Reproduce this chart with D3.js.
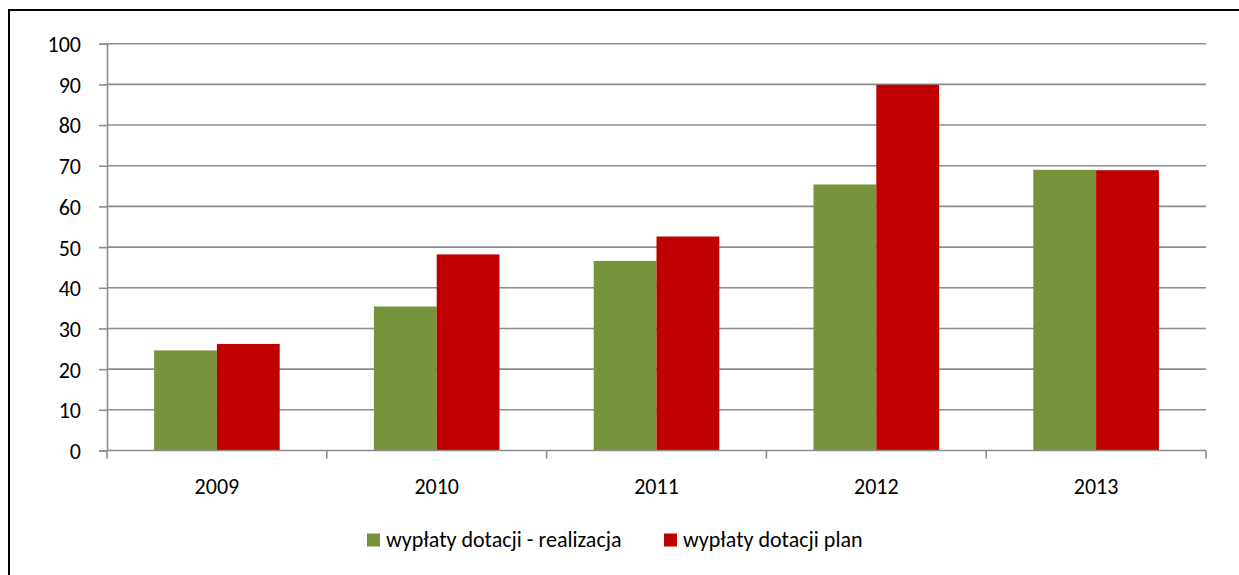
<!DOCTYPE html>
<html>
<head>
<meta charset="utf-8">
<script src="https://cdn.jsdelivr.net/npm/d3@7"></script>
<style>
  html, body { margin: 0; padding: 0; background: #fff; }
  svg { display: block; }
  text { font-family: Carlito, Lato, "Liberation Sans", sans-serif; fill: #000; }
</style>
</head>
<body>
<svg id="chart" width="1239" height="575"></svg>
<script>
const categories = ["2009", "2010", "2011", "2012", "2013"];
const seriesNames = ["wypłaty dotacji - realizacja", "wypłaty dotacji plan"];
const realizacja = [24.6, 35.4, 46.6, 65.4, 69.0];
const plan = [26.2, 48.2, 52.6, 89.9, 68.9];
const yTicks = [0, 10, 20, 30, 40, 50, 60, 70, 80, 90, 100];
const colors = ["#77933C", "#C00000"];

(function () {
const svg = d3.select("#chart");
const W = 1239, H = 575;
const FS = 22;

// outer border (chart area frame)
svg.append("rect").attr("x", 9).attr("y", 10).attr("width", W + 10).attr("height", H + 10)
  .attr("fill", "none").attr("stroke", "#000").attr("stroke-width", 2);

const pLeft = 107, pRight = 1206, pTop = 43.7, pBottom = 450.5;

const x = d3.scaleBand().domain(categories).range([pLeft, pRight]).paddingInner(0).paddingOuter(0);
const y = d3.scaleLinear().domain([0, 100]).range([pBottom, pTop]);

// gridlines
svg.append("g").selectAll("line").data(yTicks.filter(d => d > 0)).join("line")
  .attr("x1", pLeft).attr("x2", pRight)
  .attr("y1", d => y(d)).attr("y2", d => y(d))
  .attr("stroke", "#8c8c8c").attr("stroke-width", 1.6);

// bars
const barW = x.bandwidth() / 3.5;
const data = categories.map((c, i) => ({ c, vals: [realizacja[i], plan[i]] }));
const grp = svg.append("g").selectAll("g").data(data).join("g");
grp.selectAll("rect").data(d => d.vals.map((v, k) => ({ c: d.c, v, k }))).join("rect")
  .attr("x", d => x(d.c) + x.bandwidth() / 2 - barW + d.k * barW)
  .attr("width", barW)
  .attr("y", d => y(d.v))
  .attr("height", d => y(0) - y(d.v))
  .attr("fill", d => colors[d.k]);

// y axis
const yAxis = d3.axisLeft(y).tickValues(yTicks).tickSize(8).tickPadding(18).tickFormat(d3.format("d"));
const gy = svg.append("g").attr("transform", `translate(${pLeft},0)`).call(yAxis);
gy.attr("font-size", FS).attr("font-family", "Carlito, Lato, sans-serif");
gy.select(".domain").attr("stroke", "#8c8c8c").attr("stroke-width", 1.6);
gy.selectAll(".tick line").attr("stroke", "#8c8c8c").attr("stroke-width", 1.6);
gy.selectAll(".tick text").attr("fill", "#000").attr("dy", "0.36em");

// x axis
const xAxis = d3.axisBottom(x).tickSize(0).tickPadding(0);
const gx = svg.append("g").attr("transform", `translate(0,${pBottom})`).call(xAxis);
gx.attr("font-size", FS).attr("font-family", "Carlito, Lato, sans-serif");
gx.select(".domain").remove();
gx.append("line").attr("x1", pLeft).attr("x2", pRight).attr("y1", 0).attr("y2", 0)
  .attr("stroke", "#8c8c8c").attr("stroke-width", 1.6);
const bounds = categories.map(c => x(c)).concat([pRight]);
gx.selectAll(".bound").data(bounds).join("line").attr("class", "bound")
  .attr("x1", d => d).attr("x2", d => d).attr("y1", 0).attr("y2", 8)
  .attr("stroke", "#8c8c8c").attr("stroke-width", 1.6);
gx.selectAll(".tick text").attr("fill", "#000").attr("y", 43.5).attr("dy", 0);

// legend
const legendX = [367, 664];
const lg = svg.append("g").selectAll("g").data(seriesNames).join("g")
  .attr("transform", (d, i) => `translate(${legendX[i]},533.5)`);
lg.append("rect").attr("width", 13).attr("height", 13).attr("fill", (d, i) => colors[i]);
lg.append("text").attr("x", 19).attr("y", 13).attr("font-size", FS).text(d => d);
})();
</script>
</body>
</html>
